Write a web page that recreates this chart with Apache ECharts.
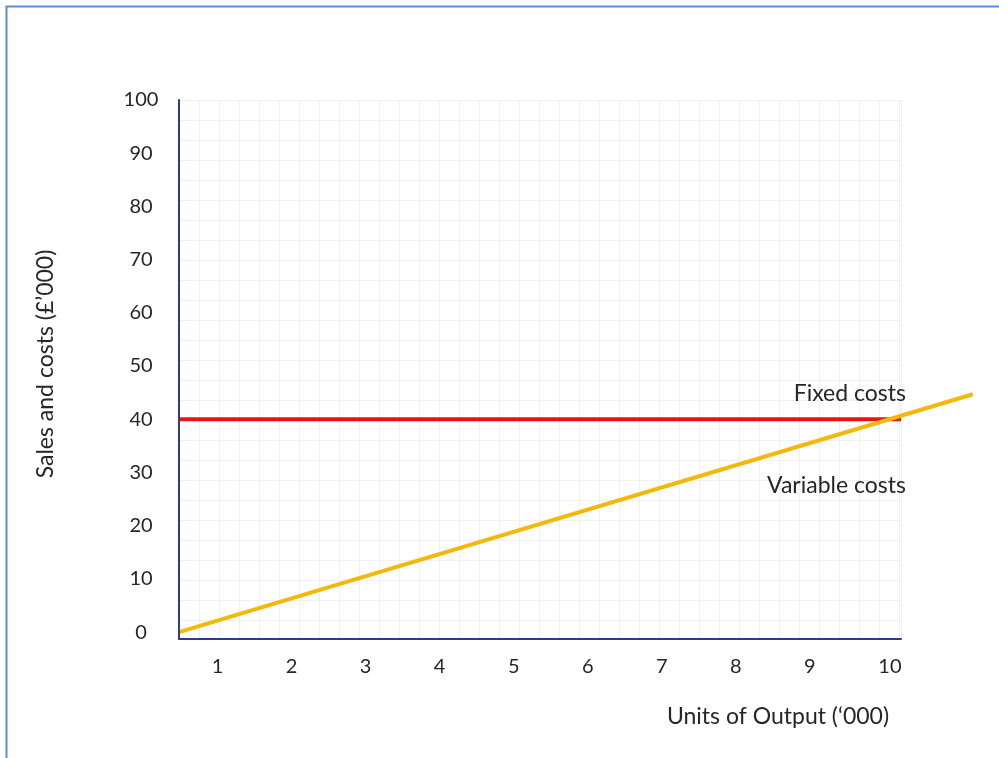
<!DOCTYPE html>
<html><head><meta charset="utf-8">
<script src="https://cdn.jsdelivr.net/npm/echarts@6/dist/echarts.min.js"></script>
<style>html,body{margin:0;padding:0;background:#fff}#c{width:999px;height:758px}</style>
</head><body><div id="c"></div><script>
// Data
const xTickLabels = [1, 2, 3, 4, 5, 6, 7, 8, 9, 10];
const yTickLabels = [0, 10, 20, 30, 40, 50, 60, 70, 80, 90, 100];
const fixedCostsX = [0.48, 10.23];
const fixedCostsY = [40, 40];
const variableCostsX = [0.48, 11.2];
const variableCostsY = [0, 44.7];
const seriesNames = ['Fixed costs', 'Variable costs'];
const xAxisTitle = 'Units of Output (\u2018000)';
const yAxisTitle = 'Sales and costs (\u00a3\u2019000)';

const fixedData = fixedCostsX.map((x, i) => [x, fixedCostsY[i]]);
const varData = variableCostsX.map((x, i) => [x, variableCostsY[i]]);

const FONT = 'Lato';
const TXT = '#262626';
const AXIS = '#2F3C8C';
const X_MIN = 0.48, X_MAX = 10.23, X_EXT = 11.2;
const Y_MIN = -1.3, Y_MAX = 100;
const PX_PER_X = 722 / (X_MAX - X_MIN);

const chart = echarts.init(document.getElementById('c'), null, {renderer: 'canvas'});
const option = {
  animation: false,
  backgroundColor: '#fff',
  grid: [
    {left: 179, top: 100, width: 722, height: 539, containLabel: false},
    {left: 179, top: 100, width: PX_PER_X * (X_EXT - X_MIN), height: 539, containLabel: false}
  ],
  xAxis: [
    {
      type: 'value', min: X_MIN, max: X_MAX, gridIndex: 0,
      axisLine: {show: true, onZero: false, lineStyle: {color: AXIS, width: 2}},
      axisTick: {show: false},
      splitLine: {show: false},
      axisLabel: {
        customValues: xTickLabels, margin: 18, color: TXT, fontFamily: FONT, fontSize: 20,
        formatter: v => v === 10 ? '{t|10}' : String(v),
        rich: {t: {padding: [0, 0, 0, 12], color: TXT, fontFamily: FONT, fontSize: 20}}
      },
      z: 5
    },
    {
      type: 'value', min: 0, max: 36.1, interval: 1, gridIndex: 0, show: true,
      axisLine: {show: false}, axisTick: {show: false}, axisLabel: {show: false},
      splitLine: {show: true, lineStyle: {color: '#F0F0F0', width: 1}}
    },
    {
      type: 'value', min: X_MIN, max: X_EXT, gridIndex: 1, show: false
    }
  ],
  yAxis: [
    {
      type: 'value', min: Y_MIN, max: Y_MAX, gridIndex: 0,
      axisLine: {show: true, onZero: false, lineStyle: {color: AXIS, width: 2}},
      axisTick: {show: false},
      splitLine: {show: false},
      axisLabel: {
        customValues: yTickLabels, margin: 38, align: 'center',
        color: TXT, fontFamily: FONT, fontSize: 20
      },
      z: 5
    },
    {
      type: 'value', min: 0, max: 26.95, interval: 1, inverse: true, gridIndex: 0,
      axisLine: {show: false}, axisTick: {show: false}, axisLabel: {show: false},
      splitLine: {show: true, lineStyle: {color: '#F0F0F0', width: 1}}
    },
    {
      type: 'value', min: Y_MIN, max: Y_MAX, gridIndex: 1, show: false
    }
  ],
  series: [
    {
      name: seriesNames[0], type: 'line', xAxisIndex: 0, yAxisIndex: 0,
      data: fixedData, symbol: 'none',
      lineStyle: {color: '#E81414', width: 4}, z: 3
    },
    {
      name: seriesNames[1], type: 'line', xAxisIndex: 2, yAxisIndex: 2,
      data: varData, symbol: 'none',
      lineStyle: {color: '#F2B80A', width: 4}, z: 4
    }
  ]
};
chart.setOption(option);

const pFixed = chart.convertToPixel({xAxisIndex: 0, yAxisIndex: 0}, [X_MAX, 40]);
const pVar = chart.convertToPixel({xAxisIndex: 0, yAxisIndex: 0}, [X_MAX, 27.5]);

chart.setOption({
  graphic: [
    {type: 'rect', z: -10, silent: true,
      shape: {x: 6.5, y: 6.5, width: 1200, height: 1000},
      style: {fill: null, stroke: '#5B8DD6', lineWidth: 2}},
    {type: 'text', x: pFixed[0] + 5, y: pFixed[1] - 26,
      style: {text: seriesNames[0], fill: TXT, font: '23px ' + FONT, align: 'right', verticalAlign: 'middle'}},
    {type: 'text', x: pVar[0] + 5, y: pVar[1],
      style: {text: seriesNames[1], fill: TXT, font: '23px ' + FONT, align: 'right', verticalAlign: 'middle'}},
    {type: 'text', x: 778, y: 717,
      style: {text: xAxisTitle, fill: TXT, font: '23px ' + FONT, align: 'center', verticalAlign: 'middle'}},
    {type: 'text', x: 46, y: 364, rotation: Math.PI / 2,
      style: {text: yAxisTitle, fill: TXT, font: '23px ' + FONT, align: 'center', verticalAlign: 'middle'}}
  ]
});
</script></body></html>
